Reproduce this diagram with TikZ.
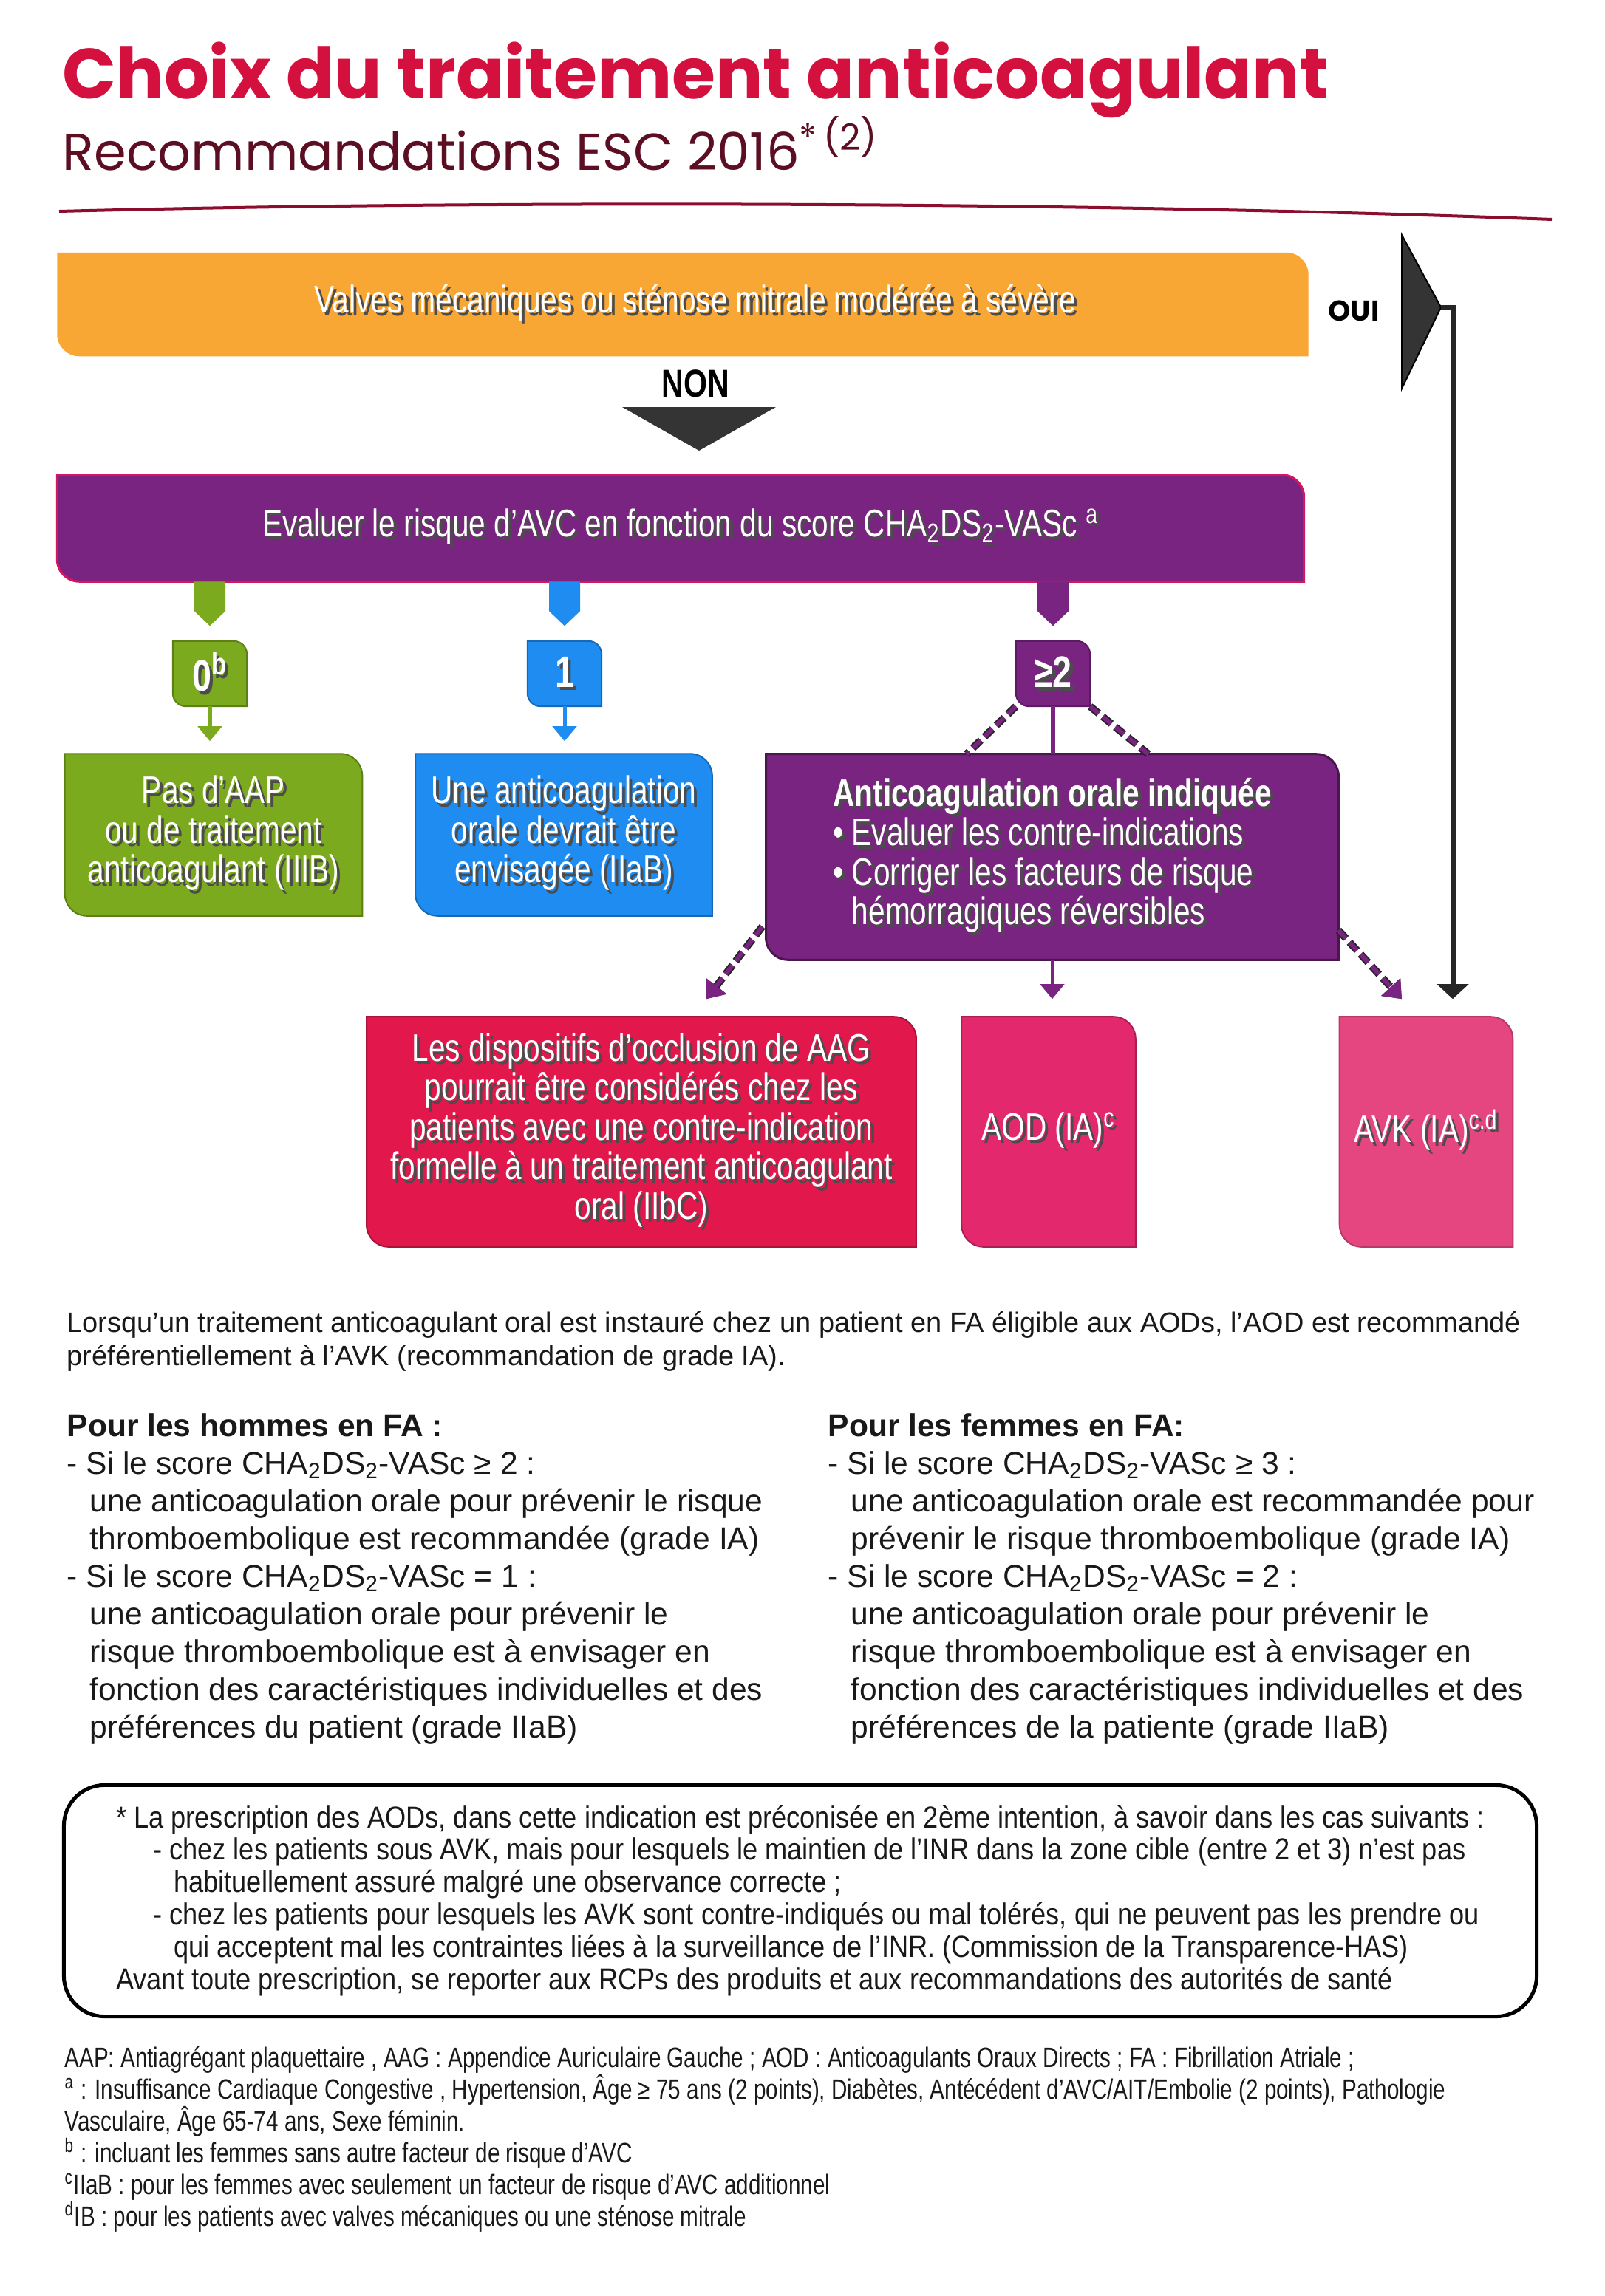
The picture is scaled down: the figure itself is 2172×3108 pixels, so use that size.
\documentclass[tikz,border=0pt]{standalone}
\usepackage{fontspec}
\setmainfont{Liberation Sans}
\newfontfamily\titlefont{Poppins}
\newfontfamily\boxfont[FakeStretch=0.78]{Liberation Sans}
\newfontfamily\notefont[FakeStretch=0.88]{Liberation Sans}
\newfontfamily\footfont[FakeStretch=0.78]{Liberation Sans}
\usetikzlibrary{arrows.meta,calc,backgrounds}

\definecolor{escRed}{RGB}{212,16,62}
\definecolor{escMaroon}{RGB}{92,14,34}
\definecolor{escLine}{RGB}{140,14,46}
\definecolor{escOrange}{RGB}{248,166,52}
\definecolor{escPurple}{RGB}{122,36,130}
\definecolor{escMagenta}{RGB}{214,20,96}
\definecolor{escGreen}{RGB}{124,170,30}
\definecolor{escBlue}{RGB}{30,140,240}
\definecolor{escPinkA}{RGB}{226,24,76}
\definecolor{escPinkB}{RGB}{228,40,110}
\definecolor{escPinkC}{RGB}{230,70,128}
\definecolor{escGrey}{RGB}{52,52,52}

% white label with a dark drop shadow
\newcommand{\escshadow}[1]{\leavevmode\rlap{\kern0.08em\raisebox{-0.08em}{\textcolor{black!70}{#1}}}#1}
% box fill with rounded top right and bottom left corners
\newcommand{\escleaf}[3]{%
  \path[#2] (#1.north west) -- ([xshift=-#3]#1.north east)
    arc[start angle=90,end angle=0,radius=#3] -- (#1.south east)
    -- ([xshift=#3]#1.south west) arc[start angle=270,end angle=180,radius=#3] -- cycle;}

\begin{document}
\begin{tikzpicture}[x=0.01cm, y=0.01cm,
  flowbox/.style={inner sep=0pt, text=white, align=center, font=\boxfont\fontsize{14.8}{15.2}\selectfont},
  badge/.style={inner sep=0pt, text=white, minimum width=0.99cm, minimum height=0.87cm, font=\boxfont\bfseries\fontsize{17}{17}\selectfont},
  stemline/.style={line width=0.05cm, -{Triangle[width=0.32cm,length=0.2cm]}, shorten >=0.17cm},
  dashlink/.style={draw=escPurple, line width=0.06cm, dash pattern=on 0.15cm off 0.07cm,
    preaction={draw=black!85, line width=0.1cm, dash pattern=on 0.15cm off 0.07cm}},
  plaintext/.style={inner sep=0pt, align=left, anchor=north west, text=black!90}]
\def\rad{0.3cm}
\useasboundingbox (0,0) rectangle (2172,-3108);

% Title
\node[anchor=base west, inner sep=0pt, text=escRed, font=\titlefont\bfseries\fontsize{27.2}{27.2}\selectfont] (title) at (84,-133) {Choix du traitement anticoagulant};
\node[anchor=base west, inner sep=0pt, text=escMaroon, font=\titlefont\fontsize{20}{20}\selectfont] (subtitle) at (84,-230) {Recommandations ESC 2016\textsuperscript{*\,(2)}};
\draw[escLine, line width=0.04cm] (80,-286) .. controls (700,-270) and (1500,-274) .. (2100,-297);

% Flow boxes
\node[flowbox, minimum width=16.91cm, minimum height=1.39cm] (valves) at (924,-412) {\hspace*{0.34cm}\escshadow{Valves mécaniques ou sténose mitrale modérée à sévère}};
\node[inner sep=0pt, font=\boxfont\bfseries\fontsize{15}{15}\selectfont] (non) at (941,-519) {NON};
\node[inner sep=0pt, font=\titlefont\bfseries\fontsize{11}{11}\selectfont] (oui) at (1832,-421) {OUI};
\node[flowbox, minimum width=16.85cm, minimum height=1.43cm] (score) at (921,-715) {\escshadow{Evaluer le risque d’AVC en fonction du score CHA\textsubscript{2}DS\textsubscript{2}-VASc \textsuperscript{a}}};

\node[badge] (s0) at (284,-912) {\escshadow{0\textsuperscript{b}}};
\node[badge] (s1) at (764,-912) {\escshadow{1}};
\node[badge] (s2) at (1425,-912) {\escshadow{≥2}};

\node[flowbox, minimum width=4.01cm, minimum height=2.18cm] (noaap) at (289,-1130) {\escshadow{Pas d’AAP}\\\escshadow{ou de traitement}\\\escshadow{anticoagulant (IIIB)}};
\node[flowbox, minimum width=4.0cm, minimum height=2.18cm] (consider) at (763,-1130) {\escshadow{Une anticoagulation}\\\escshadow{orale devrait être}\\\escshadow{envisagée (IIaB)}};
\node[flowbox, align=left, minimum width=7.73cm, minimum height=2.77cm] (indic) at (1424,-1160) {{\bfseries\escshadow{Anticoagulation orale indiquée}}\\\escshadow{• Evaluer les contre-indications}\\\escshadow{• Corriger les facteurs de risque}\\\escshadow{\phantom{• }hémorragiques réversibles}};

\node[flowbox, minimum width=7.42cm, minimum height=3.1cm] (occl) at (868,-1532) {\escshadow{Les dispositifs d’occlusion de AAG}\\\escshadow{pourrait être considérés chez les}\\\escshadow{patients avec une contre-indication}\\\escshadow{formelle à un traitement anticoagulant}\\\escshadow{oral (IIbC)}};
\node[flowbox, minimum width=2.34cm, minimum height=3.1cm] (aod) at (1419,-1532) {\escshadow{AOD (IA)\textsuperscript{c}}};
\node[flowbox, minimum width=2.33cm, minimum height=3.1cm] (avk) at (1930,-1532) {\escshadow{AVK (IA)\textsuperscript{c.d}}};

% Box fills
\begin{pgfonlayer}{background}
  \escleaf{valves}{fill=escOrange}{\rad}
  \escleaf{score}{fill=escPurple, draw=escMagenta, line width=0.03cm}{\rad}
  \escleaf{s0}{fill=escGreen, draw=escGreen!75!black, line width=0.02cm}{0.18cm}
  \escleaf{s1}{fill=escBlue, draw=escBlue!75!black, line width=0.02cm}{0.18cm}
  \escleaf{s2}{fill=escPurple, draw=escPurple!75!black, line width=0.02cm}{0.18cm}
  \escleaf{noaap}{fill=escGreen, draw=escGreen!75!black, line width=0.02cm}{\rad}
  \escleaf{consider}{fill=escBlue, draw=escBlue!75!black, line width=0.02cm}{\rad}
  \escleaf{indic}{fill=escPurple, draw=escPurple!60!black, line width=0.03cm}{\rad}
  \escleaf{occl}{fill=escPinkA, draw=escPinkA!75!black, line width=0.02cm}{\rad}
  \escleaf{aod}{fill=escPinkB, draw=escPinkB!75!black, line width=0.02cm}{\rad}
  \escleaf{avk}{fill=escPinkC, draw=escPinkC!80!black, line width=0.02cm}{\rad}
\end{pgfonlayer}

% NON and OUI pointers
\fill[escGrey] (842,-551) -- (1050,-551) -- (946,-610) -- cycle;
\coordinate (flagtip) at (1950,-416);
\fill[escGrey, draw=black, line width=0.02cm] (1897,-318) -- (flagtip) -- (1897,-526) -- cycle;
\draw[line width=0.07cm, black!85, -{Triangle[width=0.42cm,length=0.2cm]}] (flagtip) -| ($(avk.north)+(36,24)$);

% Stubs under the score box
\fill[escGreen] ($(score.south -| s0.north)+(-21,0)$) -- ++(42,0) -- ++(0,-40) -- ++(-21,-20) -- ++(-21,20) -- cycle;
\fill[escBlue] ($(score.south -| s1.north)+(-21,0)$) -- ++(42,0) -- ++(0,-40) -- ++(-21,-20) -- ++(-21,20) -- cycle;
\fill[escPurple] ($(score.south -| s2.north)+(-21,0)$) -- ++(42,0) -- ++(0,-40) -- ++(-21,-20) -- ++(-21,20) -- cycle;

% Connectors
\draw[stemline, escGreen] (s0.south) -- (s0.south |- noaap.north);
\draw[stemline, escBlue] (s1.south) -- (s1.south |- consider.north);
\draw[escPurple, line width=0.06cm] (s2.south) -- (s2.south |- indic.north);
\draw[dashlink] (s2.south west) -- ($(indic.north)+(-116,0)$);
\draw[dashlink] (s2.south east) -- ($(indic.north)+(130,0)$);
\draw[dashlink, -{Triangle[width=0.34cm,length=0.22cm]}] ($(indic.south west)+(-5,45)$) -- ($(occl.north)+(88,24)$);
\draw[stemline, escPurple, shorten >=0.24cm] (indic.south) -- (indic.south |- aod.north);
\draw[dashlink, -{Triangle[width=0.34cm,length=0.22cm]}] ($(indic.south east)+(0,40)$) -- ($(avk.north)+(-33,24)$);

% Text below the chart
\node[plaintext, font=\fontsize{10.8}{12.8}\selectfont] (intro) at (90,-1775) {Lorsqu’un traitement anticoagulant oral est instauré chez un patient en FA éligible aux AODs, l’AOD est recommandé\\préférentiellement à l’AVK (recommandation de grade IA).};

\node[plaintext, font=\fontsize{12.1}{14.5}\selectfont] (men) at (90,-1913) {\textbf{Pour les hommes en FA :}\\
- Si le score CHA\textsubscript{2}DS\textsubscript{2}-VASc ≥ 2 :\\
\hspace*{0.31cm}une anticoagulation orale pour prévenir le risque\\
\hspace*{0.31cm}thromboembolique est recommandée (grade IA)\\
- Si le score CHA\textsubscript{2}DS\textsubscript{2}-VASc = 1 :\\
\hspace*{0.31cm}une anticoagulation orale pour prévenir le\\
\hspace*{0.31cm}risque thromboembolique est à envisager en\\
\hspace*{0.31cm}fonction des caractéristiques individuelles et des\\
\hspace*{0.31cm}préférences du patient (grade IIaB)};

\node[plaintext, font=\fontsize{12.1}{14.5}\selectfont] (women) at (1120,-1913) {\textbf{Pour les femmes en FA:}\\
- Si le score CHA\textsubscript{2}DS\textsubscript{2}-VASc ≥ 3 :\\
\hspace*{0.31cm}une anticoagulation orale est recommandée pour\\
\hspace*{0.31cm}prévenir le risque thromboembolique (grade IA)\\
- Si le score CHA\textsubscript{2}DS\textsubscript{2}-VASc = 2 :\\
\hspace*{0.31cm}une anticoagulation orale pour prévenir le\\
\hspace*{0.31cm}risque thromboembolique est à envisager en\\
\hspace*{0.31cm}fonction des caractéristiques individuelles et des\\
\hspace*{0.31cm}préférences de la patiente (grade IIaB)};

% Note box
\node[draw=black, line width=0.05cm, rounded corners=0.55cm, minimum width=19.92cm, minimum height=3.13cm, inner sep=0pt, align=left, text=black!90, font=\notefont\fontsize{11.7}{12.5}\selectfont] (note) at (1083,-2573) {* La prescription des AODs, dans cette indication est préconisée en 2ème intention, à savoir dans les cas suivants :\\
\hspace*{0.5cm}- chez les patients sous AVK, mais pour lesquels le maintien de l’INR dans la zone cible (entre 2 et 3) n’est pas\\
\hspace*{0.78cm}habituellement assuré malgré une observance correcte ;\\
\hspace*{0.5cm}- chez les patients pour lesquels les AVK sont contre-indiqués ou mal tolérés, qui ne peuvent pas les prendre ou\\
\hspace*{0.78cm}qui acceptent mal les contraintes liées à la surveillance de l’INR. (Commission de la Transparence-HAS)\\
Avant toute prescription, se reporter aux RCPs des produits et aux recommandations des autorités de santé};

% Footnotes
\node[plaintext, font=\footfont\fontsize{10.8}{12.2}\selectfont] (foot) at (87,-2770) {AAP: Antiagrégant plaquettaire , AAG : Appendice Auriculaire Gauche ; AOD : Anticoagulants Oraux Directs ; FA : Fibrillation Atriale ;\\
\textsuperscript{a} : Insuffisance Cardiaque Congestive , Hypertension, Âge ≥ 75 ans (2 points), Diabètes, Antécédent d’AVC/AIT/Embolie (2 points), Pathologie\\
Vasculaire, Âge 65-74 ans, Sexe féminin.\\
\textsuperscript{b} : incluant les femmes sans autre facteur de risque d’AVC\\
\textsuperscript{c}IIaB : pour les femmes avec seulement un facteur de risque d’AVC additionnel\\
\textsuperscript{d}IB : pour les patients avec valves mécaniques ou une sténose mitrale};
\end{tikzpicture}
\end{document}
